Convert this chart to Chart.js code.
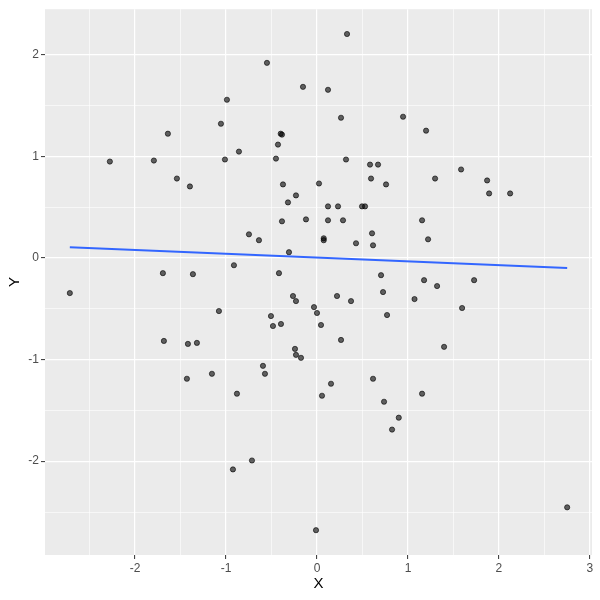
<!DOCTYPE html>
<html>
<head>
<meta charset="utf-8">
<script src="https://cdn.jsdelivr.net/npm/chart.js@4"></script>
<style>
  body { margin: 0; background: #fff; }
  canvas { display: block; }
</style>
</head>
<body>
<canvas id="chart" width="600" height="600"></canvas>
<script>
'use strict';

// points
const xValues = [
  -2.277, -1.793, -1.639, -1.540, -1.397, -1.056, -0.990, -1.012,
  -0.550, 0.330, -0.154, 0.121, 0.264, 0.946, -0.399, -0.385, -0.429, -0.858,
  -0.451, 0.319, 0.583, 0.671, 0.594, 0.759, -0.374, 0.022,
  1.199, 1.298, 1.584, 1.870,
  -1.694, -1.364, -2.717, -1.078, -1.683, -1.419, -1.320, -1.155,
  -0.231, -0.319, 0.121, 0.231, 0.495, 0.528, -0.385, -0.121, 0.121, 0.286,
  -0.748, -0.638, 0.074, 0.074, 0.605, 0.429, 0.616, -0.308, -0.913, -0.418,
  0.704, 0.726, 1.072, -0.264, -0.231, 0.220, 0.374, -0.033, 0.000, 0.044,
  0.770, -0.506, -0.484, -0.396, 0.264, -0.242, -0.231, -0.176, -0.594, -0.572,
  1.892, 2.123, 1.155, 1.221, 1.177, 1.320, 1.727, 1.595, 1.397,
  -1.430,
  -0.880, 0.154, 0.055, 0.616, 0.737, 0.899, 0.825, -0.715, -0.924, -0.011,
  1.155, 2.750
];
const yValues = [
  0.948, 0.958, 1.222, 0.781, 0.703, 1.320, 1.556, 0.968,
  1.919, 2.203, 1.683, 1.654, 1.379, 1.389, 1.222, 1.213, 1.115, 1.046,
  0.977, 0.968, 0.918, 0.918, 0.781, 0.723, 0.723, 0.732,
  1.252, 0.781, 0.870, 0.762,
  -0.150, -0.160, -0.346, -0.523, -0.817, -0.846, -0.836, -1.140,
  0.615, 0.546, 0.507, 0.507, 0.507, 0.507, 0.360, 0.379, 0.370, 0.370,
  0.232, 0.174, 0.193, 0.174, 0.242, 0.144, 0.124, 0.056, -0.072, -0.150,
  -0.170, -0.336, -0.405, -0.375, -0.425, -0.375, -0.425, -0.484, -0.542, -0.660,
  -0.562, -0.572, -0.670, -0.650, -0.807, -0.895, -0.954, -0.983, -1.062, -1.140,
  0.634, 0.634, 0.370, 0.183, -0.219, -0.277, -0.219, -0.493, -0.875,
  -1.189,
  -1.336, -1.238, -1.356, -1.189, -1.415, -1.572, -1.689, -1.993, -2.081, -2.679,
  -1.336, -2.454
];

// fitted line ends as drawn in the reference
const fitX = [-2.717, 2.750];
const fitY = [0.105, -0.100];

const xTicks = [-2, -1, 0, 1, 2, 3];
const xMinor = [-2.5, -1.5, -0.5, 0.5, 1.5, 2.5];
const yTicks = [-2, -1, 0, 1, 2];
const yMinor = [-2.5, -1.5, -0.5, 0.5, 1.5];

const points = xValues.map((x, i) => ({ x: x, y: yValues[i] }));
const fit = fitX.map((x, i) => ({ x: x, y: fitY[i] }));

const isMajor = (v) => Number.isInteger(v);

const panelBg = {
  id: 'panelBg',
  beforeDraw(chart) {
    const a = chart.chartArea;
    const c = chart.ctx;
    c.save();
    c.fillStyle = '#EBEBEB';
    c.fillRect(a.left, a.top, a.right - a.left, a.bottom - a.top);
    c.restore();
  }
};

function axis(major, minor, min, max, title, titlePad, size) {
  return {
    type: 'linear',
    min: min,
    max: max,
    afterBuildTicks: (s) => {
      s.ticks = major.concat(minor).sort((a, b) => a - b).map(v => ({ value: v }));
    },
    afterFit: (s) => {
      if (s.isHorizontal()) s.height = size; else s.width = size;
    },
    border: { display: false },
    grid: {
      color: '#FFFFFF',
      lineWidth: (c) => c.tick && isMajor(c.tick.value) ? 1.2 : 0.6,
      tickLength: 4,
      tickColor: (c) => c.tick && isMajor(c.tick.value) ? '#333333' : 'rgba(0,0,0,0)',
      tickWidth: 1
    },
    ticks: {
      autoSkip: false,
      maxRotation: 0,
      padding: 2,
      color: '#4D4D4D',
      font: { family: 'Liberation Sans, Arial, sans-serif', size: 12 },
      callback: (v) => isMajor(v) ? String(v) : ''
    },
    title: {
      display: true,
      text: title,
      color: '#000000',
      font: { family: 'Liberation Sans, Arial, sans-serif', size: 15 },
      padding: titlePad
    }
  };
}

new Chart(document.getElementById('chart').getContext('2d'), {
  type: 'scatter',
  data: {
    datasets: [
      {
        data: fit,
        showLine: true,
        borderColor: '#3366FF',
        borderWidth: 2,
        pointRadius: 0,
        fill: false
      },
      {
        data: points,
        pointRadius: 2.6,
        backgroundColor: 'rgba(0,0,0,0.6)',
        borderColor: 'rgba(0,0,0,0.75)',
        borderWidth: 0.8
      }
    ]
  },
  options: {
    responsive: false,
    animation: false,
    layout: { padding: { top: 7, right: 8, left: 0, bottom: 0 } },
    plugins: {
      legend: { display: false },
      tooltip: { enabled: false }
    },
    scales: {
      x: axis(xTicks, xMinor, -2.99, 3.023, 'X', { top: 0, bottom: 7 }, 45),
      y: axis(yTicks, yMinor, -2.923, 2.447, 'Y', { top: 6, bottom: 0 }, 45)
    }
  },
  plugins: [panelBg]
});
</script>
</body>
</html>
